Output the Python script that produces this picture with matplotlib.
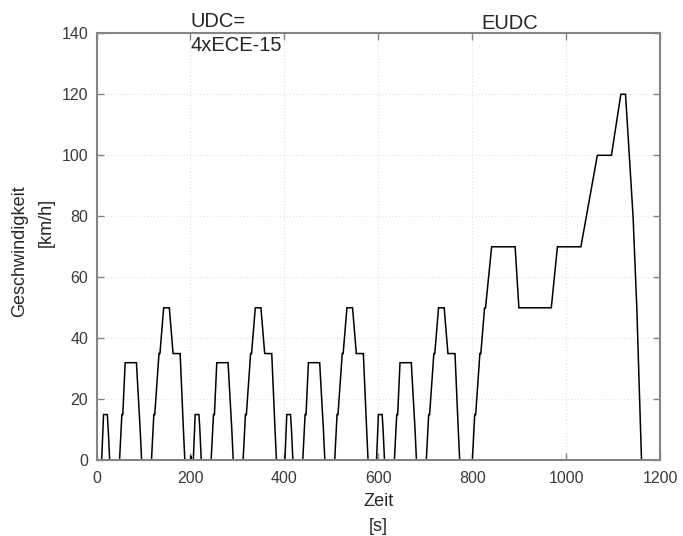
import matplotlib
matplotlib.use("Agg")
import matplotlib.pyplot as plt

plt.rcParams['font.family'] = ['Liberation Sans', 'DejaVu Sans']

# NEDC speed profile: four urban ECE-15 cycles followed by the extra-urban EUDC part
udc_time = [
    0, 11, 15, 23, 25, 28, 49, 54, 56, 61, 85, 93, 96, 117, 122, 124, 133, 135,
    143, 155, 163, 176, 178, 185, 188,
    195, 200, 201, 202, 206, 210, 218, 220, 223, 244, 249, 251, 256, 280, 288, 291,
    312, 317, 319, 328, 330, 338, 350, 358, 371, 373, 380, 383,
    390, 401, 405, 413, 415, 418, 439, 444, 446, 451, 475, 483, 486, 507, 512, 514,
    523, 525, 533, 545, 553, 566, 568, 575, 578,
    585, 596, 600, 608, 610, 613, 634, 639, 641, 646, 670, 678, 681, 702, 707, 709,
    718, 720, 728, 740, 748, 761, 763, 770, 773,
]
udc_speed = [
    0, 0, 15, 15, 10, 0, 0, 15, 15, 32, 32, 10, 0, 0, 15, 15, 35, 35,
    50, 50, 35, 35, 35, 10, 0,
    0, 0, 1.5, 0, 0, 15, 15, 10, 0, 0, 15, 15, 32, 32, 10, 0,
    0, 15, 15, 35, 35, 50, 50, 35, 35, 35, 10, 0,
    0, 0, 15, 15, 10, 0, 0, 15, 15, 32, 32, 10, 0, 0, 15, 15,
    35, 35, 50, 50, 35, 35, 35, 10, 0,
    0, 0, 15, 15, 10, 0, 0, 15, 15, 32, 32, 10, 0, 0, 15, 15,
    35, 35, 50, 50, 35, 35, 35, 10, 0,
]
eudc_time = [780, 800, 805, 807, 816, 818, 826, 828, 841, 891, 899, 968, 981,
             1031, 1066, 1096, 1116, 1126, 1142, 1150, 1160, 1180]
eudc_speed = [0, 0, 15, 15, 35, 35, 50, 50, 70, 70, 50, 50, 70,
              70, 100, 100, 120, 120, 80, 50, 0, 0]

x_ticks = [0, 200, 400, 600, 800, 1000, 1200]
y_ticks = [0, 20, 40, 60, 80, 100, 120, 140]

W, H = 683, 536
fig = plt.figure(figsize=(W / 100, H / 100), dpi=100)
ax = fig.add_axes([96.5 / W, 1 - 460.3 / H, (660.3 - 96.5) / W, (460.3 - 33.3) / H])

ax.plot(udc_time + eudc_time, udc_speed + eudc_speed, color='black', lw=1.1,
        solid_joinstyle='miter')

ax.set_xlim(0, 1200)
ax.set_ylim(0, 140)
ax.set_xticks(x_ticks)
ax.set_yticks(y_ticks)

spine_col = '#858585'
for s in ax.spines.values():
    s.set_color(spine_col)
    s.set_linewidth(1.5)
ax.tick_params(direction='in', length=5, width=1.0, color=spine_col,
               labelcolor='#3a3a3a', labelsize=11.5, top=True, right=True)
ax.tick_params(axis='y', pad=6)
ax.tick_params(axis='x', pad=8)
ax.grid(True, color='#e4e4e4', linestyle=':', linewidth=0.9)
ax.set_axisbelow(True)

txt_col = '#262626'
ax.text(200, 142.1, 'UDC=', fontsize=14.5, color=txt_col, va='baseline', clip_on=False)
ax.text(200, 134.3, '4xECE-15', fontsize=14.5, color=txt_col, va='baseline', clip_on=False)
ax.text(820, 141.4, 'EUDC', fontsize=14.5, color=txt_col, va='baseline', clip_on=False)

fig.text(20 / W, 1 - 251 / H, 'Geschwindigkeit', rotation=90, fontsize=13,
         color=txt_col, ha='center', va='center')
fig.text(46.7 / W, 1 - 222.5 / H, '[km/h]', rotation=90, fontsize=13,
         color=txt_col, ha='center', va='center')
fig.text(378.4 / W, 1 - 506 / H, 'Zeit', fontsize=13, color=txt_col,
         ha='center', va='baseline')
fig.text(378.4 / W, 1 - 531 / H, '[s]', fontsize=13, color=txt_col,
         ha='center', va='baseline')

fig.savefig('out.png', dpi=100)
